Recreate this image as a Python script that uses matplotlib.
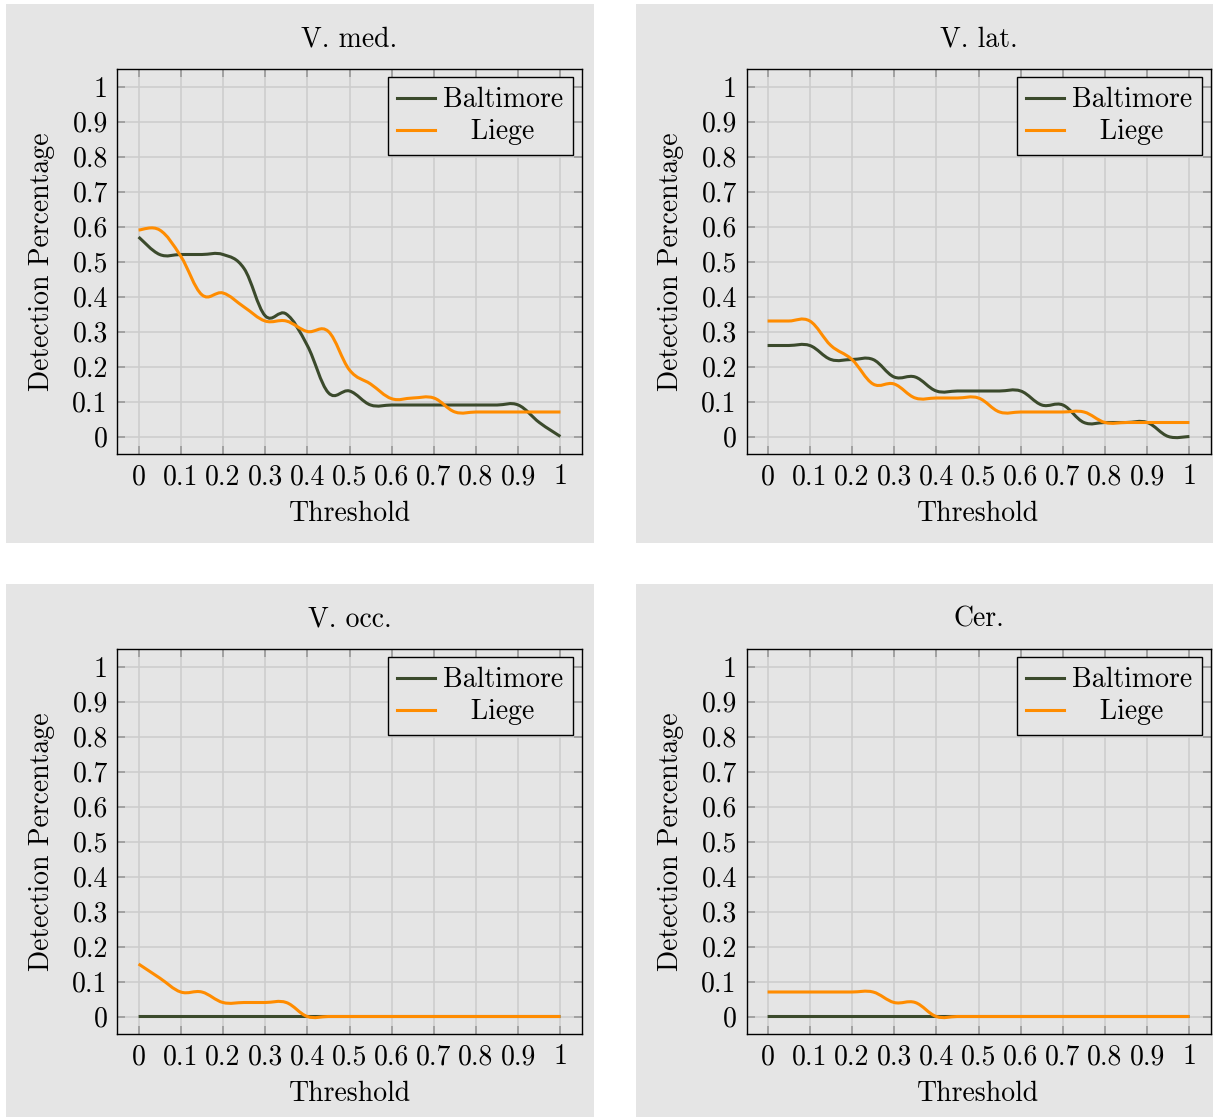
import matplotlib
matplotlib.use("Agg")
import matplotlib.pyplot as plt
from matplotlib.path import Path
from matplotlib.patches import PathPatch, Rectangle
from matplotlib.lines import Line2D
import numpy as np

# ── Data (thresholds every 0.05) ─────────────────────────────────────────────
thresholds = [0.0, 0.05, 0.1, 0.15, 0.2, 0.25, 0.3, 0.35, 0.4, 0.45, 0.5,
              0.55, 0.6, 0.65, 0.7, 0.75, 0.8, 0.85, 0.9, 0.95, 1.0]

titles = ["V. med.", "V. lat.", "V. occ.", "Cer."]

med_baltimore = [0.57, 0.52, 0.52, 0.52, 0.52, 0.48, 0.345, 0.35, 0.26, 0.125, 0.13,
                 0.09, 0.09, 0.09, 0.09, 0.09, 0.09, 0.09, 0.09, 0.04, 0.0]
med_liege = [0.59, 0.59, 0.515, 0.405, 0.41, 0.37, 0.33, 0.33, 0.30, 0.30, 0.19,
             0.15, 0.108, 0.11, 0.11, 0.07, 0.07, 0.07, 0.07, 0.07, 0.07]

lat_baltimore = [0.26, 0.26, 0.26, 0.22, 0.22, 0.22, 0.17, 0.17, 0.13, 0.13, 0.13,
                 0.13, 0.13, 0.09, 0.09, 0.04, 0.04, 0.04, 0.04, 0.0, 0.0]
lat_liege = [0.33, 0.33, 0.33, 0.26, 0.22, 0.15, 0.15, 0.11, 0.11, 0.11, 0.11,
             0.07, 0.07, 0.07, 0.07, 0.07, 0.04, 0.04, 0.04, 0.04, 0.04]

occ_baltimore = [0.0] * 21
occ_liege = [0.15, 0.11, 0.07, 0.07, 0.04, 0.04, 0.04, 0.04, 0.0, 0.0, 0.0,
             0.0, 0.0, 0.0, 0.0, 0.0, 0.0, 0.0, 0.0, 0.0, 0.0]

cer_baltimore = [0.0] * 21
cer_liege = [0.07, 0.07, 0.07, 0.07, 0.07, 0.07, 0.04, 0.04, 0.0, 0.0, 0.0,
             0.0, 0.0, 0.0, 0.0, 0.0, 0.0, 0.0, 0.0, 0.0, 0.0]

series = [(med_baltimore, med_liege), (lat_baltimore, lat_liege),
          (occ_baltimore, occ_liege), (cer_baltimore, cer_liege)]

tick_vals = [0, 0.1, 0.2, 0.3, 0.4, 0.5, 0.6, 0.7, 0.8, 0.9, 1]
tick_labels = ["0", "0.1", "0.2", "0.3", "0.4", "0.5", "0.6", "0.7", "0.8", "0.9", "1"]

# ── Style ────────────────────────────────────────────────────────────────────
C_BALT = "#3b4a2c"
C_LIEGE = "#ff8c00"
BG = "#e5e5e5"
GRID = "#cccccc"
TICK = "#999999"
FS = 20

plt.rcParams["font.family"] = "cmr10"
plt.rcParams["axes.formatter.use_mathtext"] = True


def smooth_path(xs, ys, tension=0.55):
    """Cubic Bezier path through the points, like pgfplots 'smooth'."""
    pts = np.column_stack([xs, ys]).astype(float)
    n = len(pts)
    verts = [pts[0]]
    codes = [Path.MOVETO]
    k = tension / 3.0
    for i in range(n - 1):
        p_prev = pts[max(i - 1, 0)]
        p0, p1 = pts[i], pts[i + 1]
        p_next = pts[min(i + 2, n - 1)]
        c1 = p0 + k * (p1 - p_prev)
        c2 = p1 - k * (p_next - p0)
        verts += [c1, c2, p1]
        codes += [Path.CURVE4] * 3
    return Path(verts, codes)


fig = plt.figure(figsize=(12.13, 11.17), dpi=100)
W, H = 1213, 1117

# panel backgrounds (pixel boxes: left, top, right, bottom)
panels = [(6, 4, 594, 543), (636, 4, 1224, 543), (6, 584, 594, 1123), (636, 584, 1224, 1123)]
for l, t, r, b in panels:
    fig.patches.append(Rectangle((l / W, 1 - b / H), (r - l) / W, (b - t) / H,
                                 transform=fig.transFigure, facecolor=BG,
                                 edgecolor="none", zorder=-10))

# axes boxes in pixels
axes_px = [(117.5, 69, 581.5, 454), (746.5, 69, 1210.5, 454),
           (117.5, 649, 581.5, 1034), (746.5, 649, 1210.5, 1034)]

for (l, t, r, b), title, (balt, liege) in zip(axes_px, titles, series):
    ax = fig.add_axes([l / W, 1 - b / H, (r - l) / W, (b - t) / H])
    ax.set_facecolor(BG)

    ax.add_patch(PathPatch(smooth_path(thresholds, balt), fill=False,
                           edgecolor=C_BALT, lw=2.2, zorder=3))
    ax.add_patch(PathPatch(smooth_path(thresholds, liege), fill=False,
                           edgecolor=C_LIEGE, lw=2.2, zorder=4))

    ax.set_xlim(-0.05, 1.05)
    ax.set_ylim(-0.05, 1.05)
    ax.set_xticks(tick_vals)
    ax.set_xticklabels(tick_labels)
    ax.set_yticks(tick_vals)
    ax.set_yticklabels(tick_labels)
    ax.tick_params(direction="in", top=True, right=True, length=6, width=1.2,
                   color=TICK, labelsize=FS, pad=7)
    ax.grid(True, color=GRID, linewidth=1.1)
    ax.set_axisbelow(True)
    for sp in ax.spines.values():
        sp.set_linewidth(1.0)
        sp.set_color("black")

    ax.set_title(title, fontsize=FS, pad=16.5)
    ax.set_xlabel("Threshold", fontsize=FS, labelpad=8)
    ax.set_ylabel("Detection Percentage", fontsize=FS, labelpad=12.5)

    handles = [Line2D([], [], color=C_BALT, lw=2.2),
               Line2D([], [], color=C_LIEGE, lw=2.2)]
    leg = ax.legend(handles, ["Baltimore", "   Liege"], loc="upper right",
                    fontsize=FS, frameon=True, fancybox=False, framealpha=1,
                    facecolor=BG, edgecolor="black", borderaxespad=0.3,
                    handlelength=1.35, handletextpad=0.3, borderpad=0.35,
                    labelspacing=0.2)
    leg.get_frame().set_linewidth(1.0)

fig.savefig("out.png", dpi=100, facecolor="white")
